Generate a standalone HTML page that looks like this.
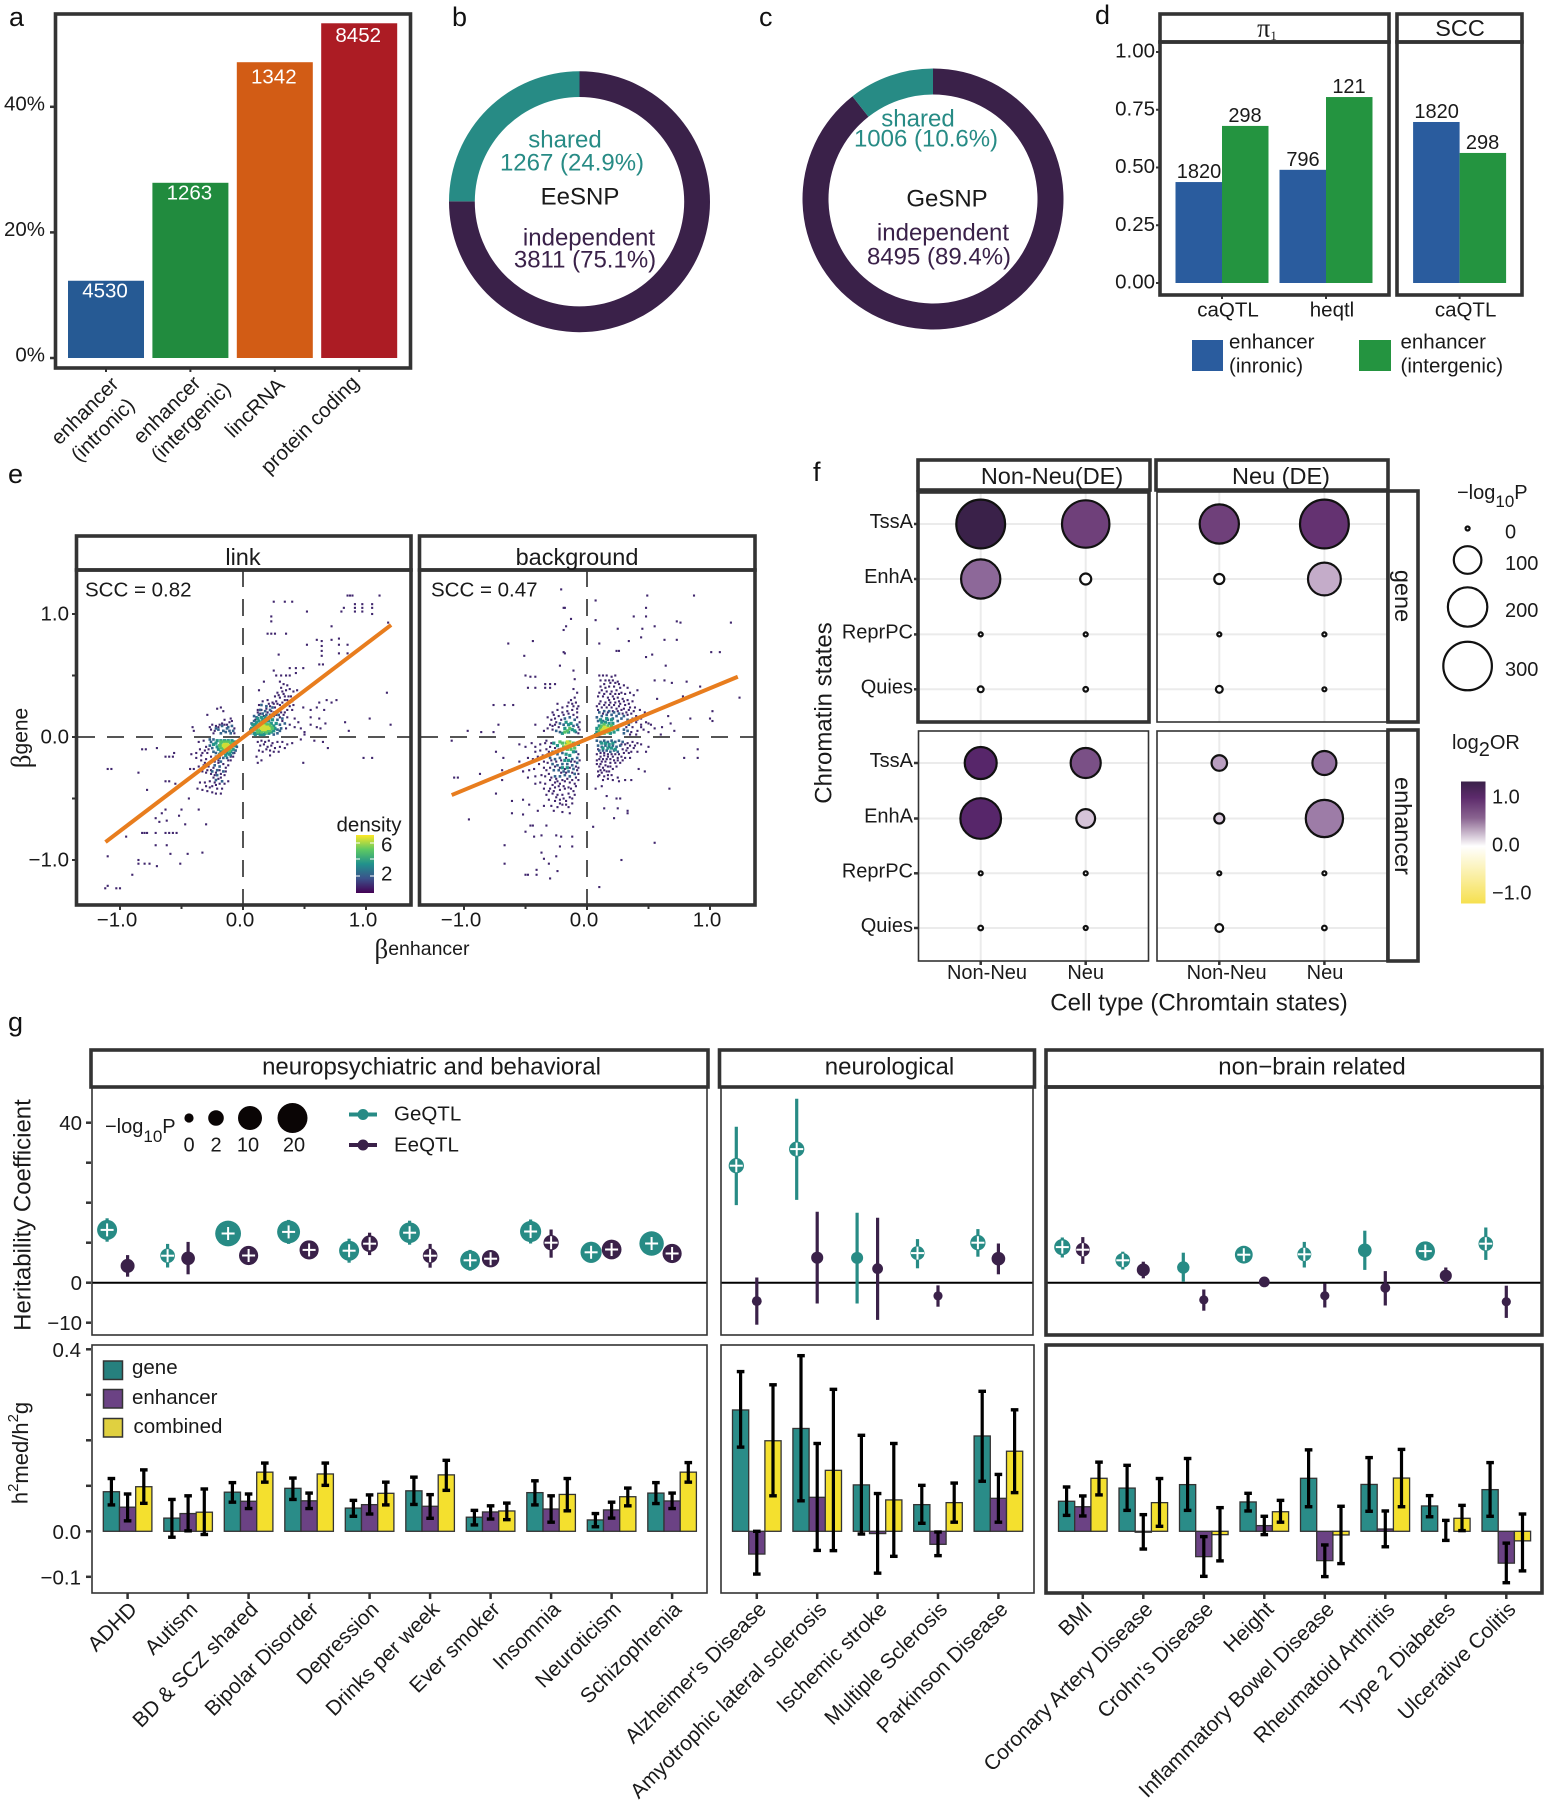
<!DOCTYPE html>
<html lang="en">
<head>
<meta charset="utf-8">
<title>Multi-panel enhancer and gene QTL figure</title>
<style>
html,body{margin:0;padding:0;background:#fff;}
svg{display:block;}
text{font-family:"Liberation Sans",sans-serif;dominant-baseline:central;fill:#1a1a1a;}
.f{fill:none;stroke:#333;}
.thick{stroke-width:3.6;}
.thin{stroke-width:1.6;}
.letter{font-size:27px;fill:#111;}
.strip{font-size:23.5px;text-anchor:middle;}
.strip24{font-size:24px;text-anchor:middle;}
.t20{font-size:20.5px;}
.mid{text-anchor:middle;}
.title{font-size:24px;text-anchor:middle;}
</style>
</head>
<body>
<svg id="figure" xmlns="http://www.w3.org/2000/svg" width="1549" height="1800" viewBox="0 0 1549 1800">
<rect width="1549" height="1800" fill="#fff"/>

<text class="letter" x="9" y="17">a</text>
<text class="letter" x="452" y="17">b</text>
<text class="letter" x="759" y="17">c</text>
<text class="letter" x="1095" y="15">d</text>
<text class="letter" x="8" y="474">e</text>
<text class="letter" x="813" y="472">f</text>
<text class="letter" x="8" y="1022">g</text>

<g id="panel-a"></g>
<rect class="f thick" x="55.5" y="14" width="355" height="354"/>

<g id="panel-b"></g>
<text class="mid" x="565" y="140" font-size="24" style="fill:#278b85">shared</text>
<text class="mid" x="572" y="163" font-size="24" style="fill:#278b85">1267 (24.9%)</text>
<text class="mid" x="580" y="197" font-size="24">EeSNP</text>
<text class="mid" x="589" y="238" font-size="24" style="fill:#3a2149">independent</text>
<text class="mid" x="585" y="260" font-size="24" style="fill:#3a2149">3811 (75.1%)</text>

<g id="panel-c"></g>
<text class="mid" x="918" y="119" font-size="24" style="fill:#278b85">shared</text>
<text class="mid" x="926" y="139" font-size="24" style="fill:#278b85">1006 (10.6%)</text>
<text class="mid" x="947" y="199" font-size="24">GeSNP</text>
<text class="mid" x="943" y="233" font-size="24" style="fill:#3a2149">independent</text>
<text class="mid" x="939" y="257" font-size="24" style="fill:#3a2149">8495 (89.4%)</text>

<g id="panel-d"></g>
<rect class="f thick" x="1160" y="14" width="229" height="28"/>
<rect class="f thick" x="1397" y="14" width="125" height="28"/>
<rect class="f thick" x="1160" y="42" width="229" height="253"/>
<rect class="f thick" x="1397" y="42" width="125" height="253"/>
<text class="mid" x="1267" y="28" font-size="26" style="font-family:'Liberation Serif',serif">π<tspan font-size="13" dy="7">1</tspan></text>
<text class="strip" x="1460" y="28">SCC</text>
<rect x="1192" y="340" width="31" height="31" fill="#2a5c9e"/>
<text class="t20" x="1229" y="342">enhancer</text>
<text class="t20" x="1229" y="366">(inronic)</text>
<rect x="1359" y="340" width="32" height="31" fill="#249440"/>
<text class="t20" x="1400.5" y="342">enhancer</text>
<text class="t20" x="1400.5" y="366">(intergenic)</text>

<g id="panel-e"></g>
<rect class="f thick" x="76.5" y="536" width="334.5" height="34"/>
<rect class="f thick" x="419.5" y="536" width="335.5" height="34"/>
<rect class="f thick" x="76.5" y="570" width="334.5" height="335"/>
<rect class="f thick" x="419.5" y="570" width="335.5" height="335"/>
<text class="strip" x="243" y="557">link</text>
<text class="strip" x="577" y="557">background</text>
<text class="t20" x="85" y="590">SCC = 0.82</text>
<text class="t20" x="431" y="590">SCC = 0.47</text>
<text class="mid" x="422" y="949" font-size="19.5"><tspan font-size="27" style="font-family:'Liberation Serif',serif">β</tspan>enhancer</text>
<text class="mid" x="21" y="738" font-size="21" transform="rotate(-90 21 738)"><tspan font-size="27" style="font-family:'Liberation Serif',serif">β</tspan>gene</text>
<text class="mid t20" x="369" y="825">density</text>
<defs>
<linearGradient id="viridis-gradient" x1="0" y1="1" x2="0" y2="0">
<stop offset="0" stop-color="#440154"/><stop offset=".25" stop-color="#3b528b"/><stop offset=".5" stop-color="#21918c"/><stop offset=".75" stop-color="#5ec962"/><stop offset="1" stop-color="#fde725"/>
</linearGradient>
<linearGradient id="or-gradient" x1="0" y1="0" x2="0" y2="1">
<stop offset="0" stop-color="#3a2149"/><stop offset=".13" stop-color="#5c2a6b"/><stop offset=".3" stop-color="#8a6490"/><stop offset=".53" stop-color="#ffffff"/><stop offset="1" stop-color="#f6e04f"/>
</linearGradient>
</defs>
<rect x="356" y="835" width="18" height="58" fill="url(#viridis-gradient)"/>
<line x1="356" x2="374" y1="843" y2="843" stroke="#fff" stroke-dasharray="4 10"/>
<line x1="356" x2="374" y1="859" y2="859" stroke="#fff" stroke-dasharray="4 10"/>
<line x1="356" x2="374" y1="876" y2="876" stroke="#fff" stroke-dasharray="4 10"/>
<text class="t20" x="381" y="845">6</text>
<text class="t20" x="381" y="874">2</text>

<g id="panel-f"></g>
<rect class="f thick" x="918" y="460" width="232" height="30"/>
<rect class="f thick" x="1156" y="460" width="232" height="30"/>
<rect class="f thick" x="918" y="492" width="231" height="230"/>
<rect class="f thin" x="1157" y="492" width="230" height="230"/>
<rect class="f thin" x="918.5" y="731" width="230" height="230"/>
<rect class="f thin" x="1157" y="731" width="230" height="230"/>
<rect class="f thick" x="1388" y="491" width="30" height="231"/>
<rect class="f thick" x="1388" y="730" width="30" height="231"/>
<text class="strip" x="1052" y="476">Non-Neu(DE)</text>
<text class="strip" x="1281" y="476">Neu (DE)</text>
<text class="strip" x="1403" y="596" transform="rotate(90 1403 596)">gene</text>
<text class="strip" x="1403" y="826" transform="rotate(90 1403 826)">enhancer</text>
<text class="title" x="1199" y="1003">Cell type (Chromtain states)</text>
<text class="title" x="824" y="713" transform="rotate(-90 824 713)">Chromatin states</text>
<text x="1457" y="493" font-size="20">−log<tspan font-size="17" dy="8">10</tspan><tspan dy="-8">P</tspan></text>
<text x="1452" y="743" font-size="20">log<tspan dy="7">2</tspan><tspan dy="-7">OR</tspan></text>
<rect x="1461" y="781.5" width="24.5" height="122" fill="url(#or-gradient)"/>

<g id="panel-g"></g>
<rect class="f thick" x="91" y="1050" width="617" height="37"/>
<rect class="f thick" x="719.5" y="1050" width="315" height="37"/>
<rect class="f thick" x="1046" y="1050" width="496" height="37"/>
<rect class="f thin" x="92" y="1087" width="615" height="248"/>
<rect class="f thin" x="721" y="1087" width="312" height="248"/>
<rect class="f thick" x="1046" y="1087" width="496" height="248"/>
<rect class="f thin" x="92" y="1345" width="615" height="248"/>
<rect class="f thin" x="721" y="1345" width="313" height="248"/>
<rect class="f thick" x="1046" y="1345" width="496" height="248"/>
<text class="strip24" x="431.5" y="1067">neuropsychiatric and behavioral</text>
<text class="strip24" x="889.5" y="1067">neurological</text>
<text class="strip24" x="1312" y="1067">non−brain related</text>
<text class="title" x="23" y="1215" transform="rotate(-90 23 1215)">Heritability Coefficient</text>
<text class="mid" x="20" y="1453" font-size="22" transform="rotate(-90 20 1453)">h<tspan font-size="15" dy="-7">2</tspan><tspan dy="7">med/h</tspan><tspan font-size="15" dy="-7">2</tspan><tspan dy="7">g</tspan></text>
<text x="105" y="1127" font-size="20">−log<tspan font-size="17" dy="9">10</tspan><tspan dy="-9">P</tspan></text>
<line x1="349" x2="377" y1="1114.5" y2="1114.5" stroke="#278b85" stroke-width="4"/>
<circle cx="363" cy="1114.5" r="5.5" fill="#278b85"/>
<text class="t20" x="394" y="1114">GeQTL</text>
<line x1="349" x2="377" y1="1145" y2="1145" stroke="#3a2149" stroke-width="4"/>
<circle cx="363" cy="1145" r="5.5" fill="#3a2149"/>
<text class="t20" x="394" y="1145">EeQTL</text>
<rect x="103.5" y="1361" width="19" height="18.5" fill="#26807e" stroke="#333" stroke-width="1.5"/>
<text class="t20" x="132" y="1367.5">gene</text>
<rect x="103.5" y="1389.5" width="19" height="18.5" fill="#6b4284" stroke="#333" stroke-width="1.5"/>
<text class="t20" x="132" y="1397.5">enhancer</text>
<rect x="103.5" y="1418.5" width="19" height="18.5" fill="#e0d040" stroke="#333" stroke-width="1.5"/>
<text class="t20" x="133.5" y="1426.5">combined</text>
</svg>

<script>
/* ---------- panel a data ---------- */
const aCategories = [["enhancer","(intronic)"],["enhancer","(intergenic)"],["lincRNA"],["protein coding"]];
const aPercent = [12.3, 27.9, 47.1, 53.3];
const aCounts = ["4530","1263","1342","8452"];
const aColors = ["#265a94","#218b3e","#d25c15","#ac1c24"];
const aTicks = [0, 20, 40];
/* ---------- panels b, c data ---------- */
const bValues = [1267, 3811];
const cValues = [1006, 8495];
/* ---------- panel d data ---------- */
const dTicks = [0, 0.25, 0.5, 0.75, 1];
const dGroups = ["caQTL","heqtl","caQTL"];
const dIntronic = [0.437, 0.49, 0.697];
const dIntergenic = [0.68, 0.805, 0.563];
const dIntronicLabels = ["1820","796","1820"];
const dIntergenicLabels = ["298","121","298"];
/* ---------- panel e data ---------- */
const eTicks = [-1, 0, 1];
const eMinorTicks = [-0.5, 0.5];
const eLevels = [0.8, 2.2, 3.6, 5, 6.5];
const linkLine = [[-1.118,-0.854],[1.204,0.911]];
const backgroundLine = [[-1.10,-0.472],[1.226,0.49]];
const link1 = [[.85,1.15],[.87,1.15],[.89,1.15],[1.11,1.15],[.25,1.10],[.34,1.10],[.40,1.10],[.52,1.02],[.80,1.02],[.82,1.05],[.91,1.08],[.91,1.05],[.91,1.02],[.97,1.08],[.97,1.05],[.97,1.02],[1.05,1.08],[1.05,1.05],[1.05,1.0],[.23,.98],[.23,.94],[.72,.90],[1.18,.93],[.20,.84],[.23,.84],[.26,.84],[.35,.84],[.60,.79],[.64,.78],[.64,.74],[.64,.70],[.64,.66],[.72,.79],[.78,.80],[.78,.75],[.85,.75],[.78,.68],[.85,.68],[.52,.75],[.29,.67],[.62,.59],[.65,.59],[.79,.59],[.38,.56],[.43,.56],[.49,.56],[.43,.52],[.25,.54],[.27,.50],[.31,.50],[.35,.50],[.38,.50],[.17,.45],[.13,.38],[.30,.45],[.33,.43],[.36,.42],[.31,.40],[.35,.38],[.38,.39],[.28,.36],[.33,.35],[.37,.33],[.41,.37],[.44,.38],[.30,.32],[.34,.30],[.27,.29],[.24,.28],[.20,.30],[.16,.29],[.13,.26],[.22,.25],[.26,.24],[.30,.26],[.33,.25],[.36,.22],[.19,.23],[.15,.22],[.12,.20],[.25,.20],[.29,.21],[.33,.18],[.36,.16],[.40,.22],[.42,.15],[.45,.12],[.38,.10],[.42,.08],[.47,.07],[.50,.04],[.35,.07],[.30,.10],[.32,.13],[.49,.24],[.55,.22],[.60,.24],[.66,.22],[.55,.16],[.62,.15],[.67,.11],[.55,.10],[.60,.08],[.63,.07],[.50,.02],[.12,-.04],[.15,-.03],[.18,-.04],[.21,-.03],[.24,-.05],[.28,-.04],[.32,-.04],[.36,-.06],[.40,-.05],[.14,-.07],[.17,-.06],[.20,-.08],[.23,-.07],[.26,-.09],[.30,-.08],[.34,-.09],[.13,-.11],[.16,-.12],[.19,-.10],[.22,-.11],[.25,-.12],[.29,-.12],[.11,-.16],[.12,-.21],[.15,-.19],[.22,-.15],[.49,-.21],[.47,-.02],[.58,-.03],[.65,-.04],[.69,-.09],[.98,-.17],[1.05,-.17],[1.2,.1],[1.17,.36],[1.03,.15],[.83,.12],[.86,.05],[.62,.28],[.72,.28],[.68,.30],[.76,.30],[-.21,.23],[-.18,.24],[-.16,.21],[-.29,.18],[-.25,.10],[-.22,.09],[-.19,.10],[-.15,.10],[-.26,.06],[-.24,.03],[-.15,.14],[-.11,.12],[-.09,.13],[-.10,.15],[-.41,.08],[-.40,.05],[-.36,-.04],[-.32,-.03],[-.30,-.08],[-.35,-.10],[-.38,-.13],[-.33,-.13],[-.29,-.13],[-.26,-.16],[-.30,-.18],[-.34,-.19],[-.38,-.17],[-.42,-.14],[-.27,-.21],[-.23,-.20],[-.20,-.21],[-.16,-.22],[-.12,-.19],[-.10,-.16],[-.24,-.25],[-.28,-.24],[-.32,-.23],[-.36,-.24],[-.40,-.26],[-.43,-.26],[-.14,-.28],[-.18,-.30],[-.22,-.29],[-.26,-.30],[-.30,-.29],[-.24,-.33],[-.20,-.34],[-.27,-.36],[-.23,-.37],[-.19,-.38],[-.15,-.38],[-.25,-.40],[-.21,-.42],[-.17,-.42],[-.31,-.37],[-.35,-.37],[-.37,-.42],[-.33,-.43],[-.29,-.44],[-.25,-.45],[-.22,-.46],[-.18,-.46],[-.12,-.36],[-.7,-.09],[-.82,-.1],[-.79,-.1],[-.63,-.16],[-.6,-.16],[-.57,-.16],[-.56,-.13],[-1.1,-.26],[-1.07,-.26],[-.85,-.29],[-.63,-.36],[-.6,-.36],[-.55,-.38],[-.78,-.43],[-.44,-.5],[-.63,-.59],[-.66,-.62],[-.71,-.66],[-.68,-.69],[-.62,-.68],[-.5,-.59],[-.52,-.64],[-.47,-.71],[-.36,-.59],[-.3,-.71],[-.82,-.78],[-.80,-.78],[-.78,-.78],[-.71,-.78],[-.63,-.78],[-.60,-.78],[-.57,-.78],[-.54,-.78],[-.95,-.81],[-.71,-.88],[-.62,-.88],[-.59,-.95],[-.45,-.95],[-.33,-.94],[-1.1,-.97],[-.85,-1],[-.85,-1.03],[-.8,-1.03],[-.76,-1.03],[-.7,-1.05],[-.51,-1.03],[-.9,-1.12],[-1.12,-1.23],[-1.1,-1.21],[-1.03,-1.23],[-1.0,-1.23]];
const linkExtra = [[.1,.14],[.12,.22],[.14,.19],[.17,.17],[.2,.2],[.23,.21],[.27,.18],[.3,.16],[.21,.27],[.25,.27],[.28,.27],[.32,.28],[.29,.34],[.26,.33],[.32,.37],[.34,.33],[.36,.3],[.39,.33],[.4,.29],[.41,.26],[.38,.25],[.34,.2],[.31,.2],[-.28,-.1],[-.31,-.11],[-.34,-.15],[-.31,-.21],[-.26,-.27],[-.29,-.27],[-.33,-.28],[-.19,-.27],[-.23,-.31],[-.18,-.33],[-.15,-.31],[-.22,-.39],[-.27,-.41],[-.3,-.4],[-.14,-.25],[-.12,-.23],[-.1,-.19],[-.08,-.16],[-.07,-.13],[-.2,-.19],[-.27,.08],[-.23,.05],[-.2,.08],[-.17,.11],[-.13,.1],[-.07,.07],[-.07,.03]];
const link2 = [[.06,.03],[.06,.06],[.07,.11],[.09,.13],[.11,.16],[.13,.18],[.16,.19],[.19,.18],[.22,.18],[.25,.17],[.28,.14],[.30,.10],[.28,.06],[.30,.05],[.28,.03],[.25,.02],[.09,.17],[.14,.22],[.18,.21],[.22,.22],[.26,.20],[.29,.18],[.32,.15],[.34,.11],[.31,.07],[.15,.26],[.19,.25],[.24,.24],[-.26,-.04],[-.27,-.07],[-.25,-.09],[-.24,-.12],[-.22,-.13],[-.22,-.16],[-.19,-.17],[-.16,-.17],[-.13,-.17],[-.10,-.15],[-.08,-.13],[-.06,-.11],[-.05,-.08],[-.05,-.04],[-.27,-.02],[-.24,-.02],[-.21,-.27],[-.19,-.24],[-.16,-.28],[-.23,-.23],[-.18,-.20],[-.25,-.28],[-.21,-.31],[-.17,-.36],[-.22,-.35],[-.2,.06],[-.16,.05],[-.13,.07],[-.11,.05],[-.17,.09],[-.12,.08],[-.09,.09],[-.14,.04],[-.22,.07],[-.18,.03],[-.10,.03],[-.08,.05]];
const link3 = [[.08,.05],[.09,.03],[.09,.08],[.10,.10],[.11,.03],[.11,.12],[.13,.03],[.13,.13],[.15,.02],[.16,.14],[.18,.03],[.19,.13],[.21,.03],[.21,.13],[.23,.04],[.23,.11],[.25,.05],[.25,.09],[.26,.07],[.12,.15],[.15,.16],[.18,.16],[.21,.15],[.24,.14],[.07,.07],[.08,.10],[.27,.11],[.10,.02],[.14,.02],[.17,.02],[-.22,-.05],[-.21,-.08],[-.20,-.10],[-.21,-.03],[-.18,-.12],[-.16,-.13],[-.13,-.13],[-.10,-.12],[-.08,-.10],[-.07,-.07],[-.07,-.04],[-.09,-.03],[-.12,-.03],[-.15,-.03],[-.18,-.03],[-.24,-.06],[-.19,-.14],[-.14,-.15],[-.11,-.14],[-.06,-.06]];
const link4 = [[.11,.06],[.12,.08],[.13,.05],[.13,.10],[.15,.04],[.16,.11],[.18,.11],[.19,.04],[.20,.05],[.21,.10],[.22,.05],[.23,.08],[.12,.04],[.14,.06],[.14,.10],[.17,.05],[.19,.10],[.22,.09],[.10,.07],[.24,.07],[.17,.12],[.15,.12],[-.18,-.06],[-.17,-.08],[-.18,-.09],[-.16,-.10],[-.14,-.11],[-.12,-.10],[-.10,-.09],[-.09,-.07],[-.10,-.05],[-.12,-.04],[-.14,-.04],[-.16,-.04],[-.19,-.07],[-.09,-.05],[-.11,-.11],[-.15,-.12],[-.18,-.04]];
const link5 = [[.15,.07],[.16,.08],[.17,.07],[.18,.08],[.17,.09],[.19,.07],[.16,.06],[.18,.06],[.2,.08],[.15,.09],[.14,.08],[.21,.07],[-.15,-.08],[-.14,-.07],[-.13,-.08],[-.14,-.09],[-.12,-.07],[-.16,-.07],[-.13,-.06],[-.15,-.06],[-.11,-.08]];
const background1 = [[-.21,1.2],[-.19,1.05],[-.18,1.05],[.07,1.11],[.49,1.15],[.87,1.15],[.48,1.05],[.48,.98],[.38,.98],[-.13,.96],[.07,.95],[-.17,.9],[-.19,.87],[.25,.88],[.45,.88],[.55,.9],[.73,.94],[.76,.93],[1.17,.93],[.44,.81],[-.64,.76],[-.44,.78],[.34,.78],[.63,.79],[.73,.79],[.1,.76],[-.19,.69],[-.18,.68],[-.51,.66],[.24,.7],[.26,.7],[1.01,.69],[1.08,.69],[.53,.67],[.48,.65],[-.22,.58],[.64,.58],[-.11,.54],[-.5,.5],[-.46,.49],[-.42,.49],[-.48,.4],[-.42,.4],[-.34,.43],[-.3,.43],[-.26,.43],[-.34,.4],[-.3,.4],[-.1,.47],[-.11,.39],[.63,.46],[.69,.44],[.81,.45],[.55,.46],[1.05,.42],[.92,.41],[-.76,.26],[-.67,.26],[-.6,.26],[-.72,.1],[-.86,.04],[-.76,.04],[-.97,.05],[-1.1,-.03],[-.74,-.12],[-.68,-.17],[-1.08,-.33],[-1.05,-.33],[-.87,-.3],[-.69,-.27],[-.63,-.27],[-.69,-.35],[-.52,-.28],[-.74,-.46],[-.61,-.52],[-.52,-.51],[-.47,-.55],[-.61,-.62],[-.52,-.63],[-.96,-.67],[-.46,-.72],[-.44,-.72],[-.33,-.72],[-.5,-.77],[-.43,-.81],[-.37,-.8],[-.25,-.8],[-.21,-.81],[-.12,-.81],[-.12,-.89],[-.22,-.89],[-.37,-.94],[-.35,-.99],[-.31,-1.03],[-.25,-.97],[-.67,-.88],[-.67,-1.03],[-.5,-1.12],[-.48,-1.12],[-.41,-1.12],[-.41,-1.08],[-.3,-1.15],[-.24,-1.09],[.1,-1.22],[.28,-1],[.55,-.86],[.05,-.73],[.22,-.66],[.14,-.58],[.25,-.58],[.33,-.6],[.27,-.5],[.24,-.5],[.33,-.62],[.07,-.42],[.16,-.48],[.67,-.42],[.9,-.17],[.79,-.17],[.9,-.1],[1.24,.32],[1.02,.21],[1,.15],[1.02,.13],[.84,.15],[.66,.17],[.68,.11],[.78,.33],[.57,.31],[.5,.11],[.61,.08],[.71,.05],[.44,.08],[.1,.5],[.13,.5],[.16,.5],[.2,.49],[.23,.5],[.21,.46],[.18,.46],[.25,.45],[.14,.43],[.18,.41],[.22,.41],[.26,.43],[.3,.42],[.33,.4],[.12,.38],[.16,.37],[.2,.37],[.24,.38],[.28,.36],[.31,.35],[.35,.36],[.38,.34],[.41,.38],[.09,.33],[.13,.33],[.17,.32],[.21,.33],[.25,.32],[.29,.31],[.33,.3],[.37,.29],[.11,.29],[.15,.28],[.19,.28],[.23,.28],[.27,.27],[.31,.26],[.35,.24],[.39,.24],[.43,.22],[.47,.2],[.08,.25],[.12,.24],[.16,.24],[.2,.24],[.24,.23],[.28,.22],[.32,.2],[.36,.19],[.4,.17],[.44,.15],[.48,.12],[.52,.1],[.4,.12],[.44,.1],[.37,.08],[.41,.05],[.46,.06],[.5,.04],[.55,.07],[.6,.02],[.36,.04],[.33,-.05],[.37,-.04],[.41,-.05],[.33,-.09],[.38,-.09],[.44,-.06],[.29,-.1],[.34,-.13],[.41,-.12],[.5,-.08],[.48,-.12],[.08,-.14],[.11,-.16],[.14,-.15],[.17,-.16],[.21,-.16],[.25,-.17],[.28,-.16],[.31,-.17],[.35,-.17],[.08,-.19],[.12,-.2],[.15,-.2],[.19,-.21],[.23,-.21],[.27,-.21],[.1,-.24],[.13,-.25],[.17,-.24],[.21,-.26],[.09,-.28],[.12,-.29],[.16,-.28],[.09,-.32],[.2,-.31],[.25,-.33],[.13,-.35],[.17,-.34],[.21,-.35],[.26,-.36],[.31,-.35],[.36,-.35],[.42,-.26],[.47,-.28],[.12,-.4],[-.13,.3],[-.1,.32],[-.08,.36],[-.12,.27],[-.16,.25],[-.09,.28],[-.07,.25],[-.24,.27],[-.2,.24],[-.28,.2],[-.24,.22],[-.2,.2],[-.16,.21],[-.12,.22],[-.08,.2],[-.32,.16],[-.29,.14],[-.26,.15],[-.3,.1],[-.26,.1],[-.35,.05],[-.32,.07],[-.28,.06],[-.42,.1],[-.08,.16],[-.06,.12],[-.06,.06],[-.55,-.06],[-.5,-.08],[-.45,-.05],[-.42,-.08],[-.38,-.06],[-.34,-.05],[-.42,-.12],[-.38,-.11],[-.33,-.1],[-.3,-.08],[-.55,-.2],[-.48,-.17],[-.44,-.18],[-.4,-.16],[-.36,-.15],[-.32,-.14],[-.52,-.28],[-.47,-.27],[-.43,-.26],[-.39,-.22],[-.35,-.25],[-.31,-.3],[-.37,-.31],[-.42,-.32],[-.48,-.33],[-.3,-.35],[-.26,-.37],[-.34,-.38],[-.38,-.37],[-.42,-.38],[-.22,-.38],[-.18,-.36],[-.14,-.37],[-.1,-.38],[-.07,-.35],[-.07,-.3],[-.07,-.25],[-.35,-.42],[-.3,-.42],[-.26,-.41],[-.22,-.43],[-.18,-.42],[-.13,-.42],[-.09,-.4],[-.33,-.47],[-.28,-.46],[-.24,-.47],[-.2,-.47],[-.15,-.46],[-.31,-.51],[-.26,-.52],[-.22,-.51],[-.17,-.52],[-.12,-.5],[-.29,-.56],[-.24,-.57],[-.2,-.55],[-.15,-.57],[-.27,-.6],[-.2,-.61],[-.14,-.62],[-.35,-.56],[-.4,-.6]];
const backgroundExtra = [[-.33,-.03],[-.29,-.05],[-.26,-.09],[-.31,-.12],[-.23,-.1],[-.35,-.2],[-.32,-.21],[-.29,-.19],[-.25,-.2],[-.21,-.19],[-.17,-.17],[-.13,-.2],[-.1,-.2],[-.07,-.14],[-.06,-.19],[-.33,-.27],[-.3,-.25],[-.26,-.24],[-.22,-.25],[-.18,-.26],[-.14,-.25],[-.09,-.24],[-.34,-.32],[-.29,-.33],[-.25,-.34],[-.21,-.29],[-.17,-.29],[-.12,-.29],[-.08,-.27],[-.28,-.39],[-.24,-.36],[-.2,-.35],[-.16,-.34],[-.12,-.35],[-.09,-.33],[-.31,-.44],[-.27,-.44],[-.23,-.4],[-.19,-.4],[-.15,-.41],[-.11,-.44],[-.25,-.49],[-.19,-.5],[-.14,-.49],[-.1,-.47],[-.22,-.54],[-.17,-.55],[-.12,-.54],[-.27,.18],[-.23,.17],[-.19,.18],[-.15,.19],[-.11,.18],[-.08,.23],[-.11,.25],[-.15,.28],[-.21,.14],[-.25,.12],[-.28,.09],[-.23,.08],[-.07,.08],[-.07,.03],[.11,.46],[.15,.46],[.19,.44],[.23,.44],[.27,.4],[.11,.41],[.15,.4],[.19,.35],[.23,.35],[.26,.35],[.1,.36],[.14,.35],[.18,.3],[.22,.31],[.26,.29],[.3,.29],[.34,.27],[.1,.27],[.14,.26],[.18,.26],[.22,.26],[.26,.25],[.3,.23],[.34,.22],[.38,.21],[.09,.22],[.13,.19],[.17,.2],[.21,.21],[.25,.21],[.29,.19],[.33,.18],[.37,.15],[.41,.14],[.36,.12],[.32,.08],[.35,.02],[.4,.02],[.09,-.1],[.11,-.13],[.14,-.13],[.17,-.14],[.2,-.14],[.23,-.14],[.26,-.14],[.3,-.13],[.1,-.18],[.13,-.18],[.16,-.18],[.19,-.18],[.22,-.19],[.25,-.19],[.29,-.19],[.08,-.22],[.11,-.22],[.15,-.23],[.19,-.24],[.24,-.24],[.11,-.27],[.14,-.27],[.18,-.28],[.1,-.31],[.14,-.32],[.17,-.31],[.31,-.06],[.35,-.07],[.39,-.07],[.28,-.06],[.32,-.11],[.36,-.12]];
const background2 = [[.1,.2],[.14,.21],[.18,.21],[.22,.2],[.26,.19],[.3,.17],[.08,.16],[.12,.17],[.16,.18],[.2,.18],[.24,.17],[.28,.15],[.33,.14],[.09,.13],[.13,.13],[.17,.14],[.21,.15],[.25,.13],[.3,.11],[.34,.1],[.3,.06],[.33,.05],[.3,.03],[.08,-.03],[.11,-.04],[.14,-.03],[.17,-.04],[.2,-.03],[.23,-.04],[.26,-.03],[.29,-.04],[.09,-.07],[.12,-.08],[.15,-.07],[.18,-.08],[.21,-.07],[.24,-.08],[.27,-.07],[.1,-.11],[.13,-.11],[.16,-.11],[.19,-.12],[.22,-.11],[.25,-.12],[-.22,.11],[-.18,.15],[-.14,.16],[-.1,.14],[-.19,.1],[-.08,.1],[-.25,.05],[-.22,.04],[-.09,.04],[-.11,.09],[-.28,-.12],[-.24,-.14],[-.2,-.13],[-.3,-.17],[-.26,-.18],[-.22,-.17],[-.12,-.18],[-.08,-.17],[-.09,-.12],[-.28,-.22],[-.24,-.23],[-.2,-.22],[-.16,-.22],[-.12,-.23],[-.08,-.21],[-.27,-.27],[-.23,-.27],[-.19,-.28],[-.15,-.28],[-.11,-.26],[-.26,-.32],[-.22,-.32],[-.18,-.31],[-.14,-.32],[-.1,-.3]];
const background3 = [[.12,-.05],[.15,-.05],[.18,-.06],[.21,-.05],[.13,-.09],[.17,-.09],[.2,-.09],[.23,-.1],[-.18,.07],[-.15,.04],[-.12,.06],[-.15,.1],[-.2,.03],[-.13,.11],[-.1,.05],[-.17,.12],[-.24,-.07],[-.21,-.1],[-.17,-.14],[-.14,-.15],[-.18,-.19],[-.15,-.19],[-.16,-.25],[-.2,-.25],[-.11,-.12],[-.07,-.06],[-.27,-.05],[.08,.04],[.08,.07],[.1,.09],[.11,.03],[.12,.12],[.15,.12],[.18,.11],[.21,.11],[.23,.08],[.22,.04],[.25,.06],[.19,.03],[.16,.15],[.11,.14],[.2,.14],[.07,.02]];
const background4 = [[-.16,.05],[-.14,.07],[-.18,.04],[-.2,-.05],[-.17,-.05],[-.14,-.04],[-.11,-.05],[-.22,-.04],[-.19,-.08],[-.16,-.1],[-.13,-.1],[-.1,-.09],[-.08,-.05],[.1,.05],[.11,.07],[.12,.09],[.14,.1],[.17,.09],[.18,.05],[.19,.07],[.17,.04],[.14,.03],[.2,.09],[.21,.06]];
const background5 = [[-.17,-.07],[-.15,-.06],[-.13,-.07],[-.14,-.05],[-.16,-.04],[.13,.06],[.15,.07],[.16,.06],[.14,.08],[.17,.07],[.12,.05],[.15,.05]];
/* ---------- panel f data (row = chromatin state, column = cell type) ---------- */
const fStates = ["TssA","EnhA","ReprPC","Quies"];
const fCellTypes = ["Non-Neu","Neu"];
const fPGeneNonNeu = [[303,286],[198,16],[0,0],[3,1]];
const fPGeneNeu = [[198,303],[13,140],[0,0],[5,0]];
const fPEnhancerNonNeu = [[133,118],[212,47],[0,0],[1,0]];
const fPEnhancerNeu = [[32,76],[13,179],[0,0],[7,1]];
const fOrGeneNonNeu = [[1.33,0.85],[0.6,0],[0,0],[0,0]];
const fOrGeneNeu = [[0.85,0.95],[0,0.3],[0,0],[0,0]];
const fOrEnhancerNonNeu = [[1.05,0.75],[1.05,0.22],[0,0],[0,0]];
const fOrEnhancerNeu = [[0.35,0.55],[0.2,0.5],[0,0],[0,0]];
const fSizeLegend = [0,100,200,300];
const fColorTicks = [1,0.5,0,-0.5,-1];
const fColorLabels = [1,0,-1];
/* ---------- panel g data ---------- */
const gNeuropsych = ["ADHD","Autism","BD & SCZ shared","Bipolar Disorder","Depression","Drinks per week","Ever smoker","Insomnia","Neuroticism","Schizophrenia"];
const gNeuro = ["Alzheimer's Disease","Amyotrophic lateral sclerosis","Ischemic stroke","Multiple Sclerosis","Parkinson Disease"];
const gNonBrain = ["BMI","Coronary Artery Disease","Crohn's Disease","Height","Inflammatory Bowel Disease","Rheumatoid Arthritis","Type 2 Diabetes","Ulcerative Colitis"];
const gCoefTicks = [40,30,20,10,0,-10];
const gCoefLabels = [40,0,-10];
const gRatioTicks = [0.4,0.3,0.2,0.1,0,-0.1];
const gRatioLabels = [0.4,0,-0.1];
const gSizeLegend = [0,2,10,20];
/* coefficient: value, lower, upper, -log10P, significant */
const geqtlNeuropsych = [[13.2,10.25,16.1,6.2,1],[6.75,3.8,9.7,1.7,1],[12.3,9.3,15.3,13,1],[12.7,9.7,15.7,9,1],[8,5,11,6.2,1],[12.5,9.5,15.5,6.8,1],[5.6,3,8.2,6,1],[12.8,9.8,15.8,7.3,1],[7.6,5,10.2,7.3,1],[9.8,6.8,12.8,10.7,1]];
const eeqtlNeuropsych = [[4.2,1.5,6.9,1.5,0],[6.1,2.1,10.2,1.4,0],[6.8,5,8.5,5.4,1],[8.2,6,10.4,5.4,1],[9.75,6.9,12.5,2.95,1],[6.75,3.75,9.7,1.7,1],[6,4,8,3.7,1],[10,6.25,13.3,1.9,1],[8.3,6,10.6,6,1],[7.3,5,9.6,5.4,1]];
const geqtlNeuro = [[29.25,19.4,39,1.9,1],[33.4,20.7,46,1.9,1],[6.2,-5.2,17.5,0.9,0],[7.4,3.6,10.9,1.5,1],[10,6.5,13.4,1.9,1]];
const eeqtlNeuro = [[-4.6,-10.5,1.3,0.2,0],[6.25,-5.2,17.75,0.9,0],[3.5,-9.3,16.25,0.5,0],[-3.3,-6,-0.67,0,0],[6,2.1,9.8,1.4,0]];
const geqtlNonBrain = [[8.9,6.3,11.3,2.6,1],[5.6,3.3,7.75,1.7,1],[3.8,0.25,7.5,1,0],[7,5,9,4.1,1],[7.1,3.8,10.2,1.5,1],[8.1,3.2,13,1.4,0],[7.9,6,10,5.6,1],[9.75,5.7,13.8,1.7,1]];
const eeqtlNonBrain = [[8.25,4.7,11.4,1.5,1],[3.2,1.1,5.25,1.2,0],[-4.3,-7,-1.7,0,0],[0.2,-1,1.4,0.5,0],[-3.25,-6.2,-0.2,0,0],[-1.3,-5.7,2.9,0.2,0],[1.75,-0.3,3.8,0.9,0],[-4.75,-8.8,-0.75,0,0]];
/* ratio: value, lower, upper for gene / enhancer / combined */
const ratioGeneNeuropsych = [[.087,.058,.116],[.029,-.013,.07],[.086,.064,.107],[.0945,.07,.117],[.051,.033,.068],[.089,.059,.119],[.031,.014,.046],[.085,.058,.111],[.025,.01,.039],[.084,.061,.107]];
const ratioEnhancerNeuropsych = [[.053,.023,.082],[.039,.001,.078],[.066,.05,.082],[.067,.05,.084],[.0586,.038,.08],[.055,.0286,.0806],[.0425,.027,.056],[.049,.02,.078],[.047,.029,.064],[.0667,.05,.084]];
const ratioCombinedNeuropsych = [[.098,.0615,.135],[.042,-.007,.093],[.13,.108,.15],[.126,.101,.15],[.0835,.058,.108],[.124,.09,.156],[.0447,.0256,.062],[.081,.045,.116],[.076,.056,.095],[.13,.108,.151]];
const ratioGeneNeuro = [[.2667,.185,.351],[.226,.067,.386],[.102,-.006,.211],[.0586,.0176,.101],[.2095,.11,.3077]];
const ratioEnhancerNeuro = [[-.05,-.094,0],[.0747,-.042,.193],[-.005,-.092,.083],[-.0286,-.0535,-.0015],[.0725,.02,.125]];
const ratioCombinedNeuro = [[.199,.078,.322],[.134,-.0425,.312],[.069,-.055,.193],[.063,.02,.106],[.176,.085,.267]];
const ratioGeneNonBrain = [[.066,.035,.0974],[.095,.046,.145],[.1026,.046,.16],[.0645,.0447,.0835],[.1165,.054,.179],[.103,.044,.162],[.0557,.032,.0784],[.0916,.033,.151]];
const ratioEnhancerNonBrain = [[.054,.0337,.0777],[-.002,-.039,.0366],[-.0557,-.099,-.0117],[.0125,-.0073,.033],[-.0645,-.0996,-.03],[.005,-.034,.0447],[0,-.02,.024],[-.07,-.113,-.026]];
const ratioCombinedNonBrain = [[.1165,.08,.152],[.063,.011,.116],[-.0073,-.065,.052],[.043,.02,.068],[-.008,-.071,.055],[.117,.054,.18],[.0286,.0015,.057],[-.021,-.087,.038]];

/* ---------- helpers ---------- */
const NS = "http://www.w3.org/2000/svg";
function mk(tag, parent, attrs, txt){
  const e = document.createElementNS(NS, tag);
  for (const k in attrs) e.setAttribute(k, attrs[k]);
  if (txt !== undefined) e.textContent = txt;
  parent.appendChild(e);
  return e;
}
function minusFmt(v, d){ const s = Math.abs(v).toFixed(d); return (v < 0 ? "−" : "") + s; }
function hex(c){ return [1,3,5].map(i => parseInt(c.substr(i,2),16)); }
function mix(stops, t){
  t = Math.max(stops[0][0], Math.min(stops[stops.length-1][0], t));
  for (let i = 0; i < stops.length-1; i++){
    if (t <= stops[i+1][0]){
      const u = (t-stops[i][0])/(stops[i+1][0]-stops[i][0]);
      const a = hex(stops[i][1]), b = hex(stops[i+1][1]);
      return "rgb("+a.map((v,j)=>Math.round(v+(b[j]-v)*u)).join(",")+")";
    }
  }
  return stops[stops.length-1][1];
}

/* ---------- panel a ---------- */
(function(){
  const g = document.getElementById("panel-a");
  const ya = v => 358 - v*6.28;
  const xa = i => 106 + i*84.4;
  const barW = 76;
  const labelDrop = [10,10,15,12];
  aPercent.forEach((v,i)=>{
    const r = mk("rect", g, {x:xa(i)-barW/2, y:ya(v), width:barW, height:ya(0)-ya(v), fill:aColors[i]});
    
    
    const t = mk("text", g, {x:xa(i)-1, y:ya(v)+labelDrop[i], "text-anchor":"middle", "font-size":"20.5", style:"fill:#fff"}, aCounts[i]);
    
    
    const tk = mk("line", g, {x1:xa(i), x2:xa(i), y1:368, y2:372, stroke:"#333", "stroke-width":2});
    
    
  });
  aTicks.forEach(v=>{
    const tk = mk("line", g, {x1:50, x2:55, y1:ya(v), y2:ya(v), stroke:"#333", "stroke-width":2.5});
    
    
    const t = mk("text", g, {x:45, y:ya(v)-3, "text-anchor":"end", "font-size":"20.5"}, v+"%");
    
    
  });
  const labelCenters = [[[85,411],[103,430]],[[167,410],[191,422]],[[255,408]],[[310,425]]];
  aCategories.forEach((lines,i)=>{
    lines.forEach((s,j)=>{
      const c = labelCenters[i][j];
      const t = mk("text", g, {x:c[0], y:c[1], "text-anchor":"middle", "font-size":"20.5", transform:"rotate(-45 "+c[0]+" "+c[1]+")"}, s);
      
      
    });
  });
})();

/* ---------- donuts ---------- */
function donut(groupId, cx, cy, R, r, values){
  const g = document.getElementById(groupId);
  const total = values[0]+values[1];
  const frac = values[0]/total;
  const pt = (rad, a) => [cx+rad*Math.sin(a), cy-rad*Math.cos(a)];
  const a0 = -frac*2*Math.PI;
  const arc = (start, end, large) => {
    const p1 = pt(R,start), p2 = pt(R,end), p3 = pt(r,end), p4 = pt(r,start);
    return "M"+p1+" A"+R+" "+R+" 0 "+large+" 1 "+p2+" L"+p3+" A"+r+" "+r+" 0 "+large+" 0 "+p4+" Z";
  };
  const big = mk("path", g, {d:arc(0, 2*Math.PI+a0, frac<0.5?1:0), fill:"#3a2149"});
  
  
  const small = mk("path", g, {d:arc(a0, 0, frac>0.5?1:0), fill:"#278b85"});
  
  
}
donut("panel-b", 579.5, 201.7, 130.5, 104.7, bValues);
donut("panel-c", 933, 199, 130.5, 104.5, cValues);

/* ---------- panel d ---------- */
(function(){
  const g = document.getElementById("panel-d");
  const yd = v => 283 - v*231;
  const centers = [1222, 1326, 1459.6];
  const w = 46.5;
  dIntronic.forEach((v,i)=>{
    const c = centers[i];
    const b1 = mk("rect", g, {x:c-w, y:yd(v), width:w, height:yd(0)-yd(v), fill:"#2a5c9e"});
    
    
    const b2 = mk("rect", g, {x:c, y:yd(dIntergenic[i]), width:w, height:yd(0)-yd(dIntergenic[i]), fill:"#249440"});
    
    
    const t1 = mk("text", g, {x:c-23, y:yd(v)-10, "text-anchor":"middle", "font-size":"20"}, dIntronicLabels[i]);
    
    
    const t2 = mk("text", g, {x:c+23, y:yd(dIntergenic[i])-10, "text-anchor":"middle", "font-size":"20"}, dIntergenicLabels[i]);
    
    
    const tk = mk("line", g, {x1:c, x2:c, y1:295, y2:299, stroke:"#333", "stroke-width":2});
    
    
    const lb = mk("text", g, {x:c+6, y:310, "text-anchor":"middle", "font-size":"20.5"}, dGroups[i]);
    
    
  });
  dTicks.forEach(v=>{
    const tk = mk("line", g, {x1:1156, x2:1160, y1:yd(v), y2:yd(v), stroke:"#333", "stroke-width":2});
    
    
    const t = mk("text", g, {x:1155, y:yd(v)-1, "text-anchor":"end", "font-size":"20.5"}, v.toFixed(2));
    
    
  });
})();

/* ---------- panel e ---------- */
(function(){
  const g = document.getElementById("panel-e");
  const viridis = [[0,"#440154"],[.25,"#3b528b"],[.5,"#21918c"],[.75,"#5ec962"],[1,"#fde725"]];
  const ye = v => 737 - v*123;
  const markSizes = [2.1,2.6,3.2,3.2,3.2];
  function facet(x0, name, line, groups, frameL, frameR){
    const xe = v => x0 + v*123;
    [ [frameL,frameR,ye(0),ye(0)], [xe(0),xe(0),570,905] ].forEach(c=>{
      const d = mk("line", g, {x1:c[0], x2:c[1], y1:c[2], y2:c[3], stroke:"#555", "stroke-width":2, "stroke-dasharray":"17 12"});
      
      
    });
    groups.forEach((pts,k)=>{
      const col = mix(viridis, eLevels[k]/7);
      pts.forEach(p=>{
        const s = markSizes[k];
        const r = mk("rect", g, {x:xe(p[0])-s/2, y:ye(p[1])-s/2, width:s, height:s, fill:col});
        
        
      });
    });
    const fit = mk("line", g, {x1:xe(line[0][0]), y1:ye(line[0][1]), x2:xe(line[1][0]), y2:ye(line[1][1]), stroke:"#e87d1e", "stroke-width":4});
    
    
    eTicks.forEach(v=>{
      const tk = mk("line", g, {x1:xe(v), x2:xe(v), y1:905, y2:910, stroke:"#333", "stroke-width":2});
      
      
      const t = mk("text", g, {x:xe(v)-3, y:920, "text-anchor":"middle", "font-size":"20.5"}, minusFmt(v,1));
      
      
    });
    eMinorTicks.forEach(v=>{
      const tk = mk("line", g, {x1:xe(v), x2:xe(v), y1:905, y2:909, stroke:"#333", "stroke-width":2});
      
      
    });
  }
  facet(243, "link", linkLine, [link1.concat(linkExtra),link2,link3,link4,link5], 78, 410);
  facet(587, "background", backgroundLine, [background1.concat(backgroundExtra),background2,background3,background4,background5], 421, 754);
  eTicks.forEach(v=>{
    const tk = mk("line", g, {x1:72, x2:76, y1:ye(v), y2:ye(v), stroke:"#333", "stroke-width":2});
    
    
    const t = mk("text", g, {x:69, y:ye(v), "text-anchor":"end", "font-size":"20.5"}, minusFmt(v,1));
    
    
  });
  eMinorTicks.forEach(v=>{
    const tk = mk("line", g, {x1:72, x2:76, y1:ye(v), y2:ye(v), stroke:"#333", "stroke-width":2});
    
    
  });
})();

/* ---------- panel f ---------- */
(function(){
  const g = document.getElementById("panel-f");
  const orStops = [[-1.15,"#f6e04f"],[0,"#ffffff"],[0.2,"#d9c9dc"],[0.35,"#b99ec0"],[0.55,"#93709f"],[0.75,"#7a5086"],[0.9,"#6a3874"],[1.05,"#57266a"],[1.33,"#3a2149"]];
  const rScale = p => Math.max(2, Math.sqrt(9+2.1*p)-1);
  const rowsTop = [524,579,634.4,689.3], rowsBottom = [763,818.5,873.3,928];
  function facet(name, xs, ys, left, right, top, bottom, pv, orv){
    ys.forEach(y=>{
      const l = mk("line", g, {x1:left, x2:right, y1:y, y2:y, stroke:"#ebebeb", "stroke-width":2});
      
      
    });
    xs.forEach(x=>{
      const l = mk("line", g, {x1:x, x2:x, y1:top, y2:bottom, stroke:"#ebebeb", "stroke-width":2});
      
      
    });
    ys.forEach((y,i)=>{
      xs.forEach((x,j)=>{
        const c = mk("circle", g, {cx:x, cy:y, r:rScale(pv[i][j]), fill:mix(orStops, orv[i][j]), stroke:"#111", "stroke-width":2.2});
        
        
      });
    });
  }
  facet("gene-nonneu", [980.7,1085.7], rowsTop, 918, 1149, 492, 722, fPGeneNonNeu, fOrGeneNonNeu);
  facet("gene-neu", [1219.3,1324.4], rowsTop, 1157, 1387, 492, 722, fPGeneNeu, fOrGeneNeu);
  facet("enhancer-nonneu", [980.7,1085.7], rowsBottom, 918, 1149, 731, 961, fPEnhancerNonNeu, fOrEnhancerNonNeu);
  facet("enhancer-neu", [1219.3,1324.4], rowsBottom, 1157, 1387, 731, 961, fPEnhancerNeu, fOrEnhancerNeu);
  rowsTop.concat(rowsBottom).forEach((y,i)=>{
    const tk = mk("line", g, {x1:914, x2:918, y1:y, y2:y, stroke:"#333", "stroke-width":2.5});
    
    
    const t = mk("text", g, {x:913, y:y-2, "text-anchor":"end", "font-size":"20"}, fStates[i%4]);
    
    
  });
  [[980.7,987],[1085.7,1085.7],[1219.3,1226.6],[1324.4,1325]].forEach((p,i)=>{
    const tk = mk("line", g, {x1:p[0], x2:p[0], y1:961, y2:965, stroke:"#333", "stroke-width":2.5});
    
    
    const t = mk("text", g, {x:p[1], y:973, "text-anchor":"middle", "font-size":"20"}, fCellTypes[i%2]);
    
    
  });
  const legendY = [528.5,560,607,666];
  fSizeLegend.forEach((p,i)=>{
    const c = mk("circle", g, {cx:1467.6, cy:legendY[i], r:rScale(p), fill:"#fff", stroke:"#111", "stroke-width":2.2});
    
    
    const t = mk("text", g, {x:1505, y:legendY[i]+4, "font-size":"20"}, String(p));
    
    
  });
  const yc = v => 845.5 - v*48;
  fColorTicks.forEach(v=>{
    const tk = mk("line", g, {x1:1461, x2:1485.5, y1:yc(v), y2:yc(v), stroke:"#fff", "stroke-width":1.2, "stroke-dasharray":"5 14.5"});
    
    
  });
  fColorLabels.forEach(v=>{
    const t = mk("text", g, {x:1492, y:yc(v), "font-size":"20"}, minusFmt(v,1));
    
    
  });
})();

/* ---------- panel g ---------- */
(function(){
  const g = document.getElementById("panel-g");
  const yc = v => 1282.7 - v*4;
  const yr = v => 1531.3 - v*455;
  const rP = p => p<=2 ? 4.6+1.6*p : (p<=10 ? 7.8+0.525*(p-2) : 12+0.3*(p-10));
  const teal = "#278b85", dark = "#3a2149";
  function ratioGroup(x, rows, offset, fill, name){
    rows.forEach((d,i)=>{
      const c = x(i)+offset;
      const top = Math.min(yr(d[0]),yr(0)), h = Math.abs(yr(d[0])-yr(0));
      const b = mk("rect", g, {x:c-8.1, y:top, width:16.2, height:h, fill:fill, stroke:"#333", "stroke-width":1.3});
      
      
    });
  }
  function ratioErr(x, rows, offset, name){
    rows.forEach((d,i)=>{
      const c = x(i)+offset;
      const e = mk("line", g, {x1:c, x2:c, y1:yr(d[1]), y2:yr(d[2]), stroke:"#000", "stroke-width":3.2});
      
      
      [d[1],d[2]].forEach(v=>{
        const cap = mk("line", g, {x1:c-3.8, x2:c+3.8, y1:yr(v), y2:yr(v), stroke:"#000", "stroke-width":3.4});
        
        
      });
    });
  }
  function coef(x, rows, offset, col, name){
    rows.forEach((d,i)=>{
      const c = x(i)+offset;
      const e = mk("line", g, {x1:c, x2:c, y1:yc(d[1]), y2:yc(d[2]), stroke:col, "stroke-width":3.2});
      
      
      const p = mk("circle", g, {cx:c, cy:yc(d[0]), r:rP(d[3]), fill:col});
      
      
      if (d[4]){
        const h = mk("line", g, {x1:c-6.5, x2:c+6.5, y1:yc(d[0]), y2:yc(d[0]), stroke:"#fff", "stroke-width":2});
        
        
        const v = mk("line", g, {x1:c, x2:c, y1:yc(d[0])-6.5, y2:yc(d[0])+6.5, stroke:"#fff", "stroke-width":2});
        
        
      }
    });
  }
  function facet(x, left, right, cats, ge, ee, rg, re, rc, name){
    const z = mk("line", g, {x1:left, x2:right, y1:yc(0), y2:yc(0), stroke:"#000", "stroke-width":2});
    
    
    coef(x, ge, -20.5, teal, name+'-geqtl');
    coef(x, ee, 0, dark, name+'-eeqtl');
    ratioGroup(x, rg, -16.2, "#2a8c88", name+'-gene');
    ratioGroup(x, re, 0, "#6b4284", name+'-enhancer');
    ratioGroup(x, rc, 16.2, "#f4e02e", name+'-combined');
    ratioErr(x, rg, -16.2, name+'-gene');
    ratioErr(x, re, 0, name+'-enhancer');
    ratioErr(x, rc, 16.2, name+'-combined');
    cats.forEach((s,i)=>{
      const tk = mk("line", g, {x1:x(i), x2:x(i), y1:1593, y2:1599, stroke:"#333", "stroke-width":2.5});
      
      
      const px = x(i)+6, py = 1606;
      const t = mk("text", g, {x:px, y:py, "text-anchor":"end", "font-size":"21", transform:"rotate(-45 "+px+" "+py+")"}, s);
      
      
    });
  }
  facet(i=>127.6+i*60.5, 92, 707, gNeuropsych, geqtlNeuropsych, eeqtlNeuropsych, ratioGeneNeuropsych, ratioEnhancerNeuropsych, ratioCombinedNeuropsych, "neuropsych");
  facet(i=>756.8+i*60.4, 721, 1033, gNeuro, geqtlNeuro, eeqtlNeuro, ratioGeneNeuro, ratioEnhancerNeuro, ratioCombinedNeuro, "neurological");
  facet(i=>1082.8+i*60.5, 1046, 1542, gNonBrain, geqtlNonBrain, eeqtlNonBrain, ratioGeneNonBrain, ratioEnhancerNonBrain, ratioCombinedNonBrain, "non-brain");
  gCoefTicks.forEach(v=>{
    const tk = mk("line", g, {x1:86, x2:91, y1:yc(v), y2:yc(v), stroke:"#333", "stroke-width":2.5});
    
    
  });
  gCoefLabels.forEach(v=>{
    const t = mk("text", g, {x:82, y:yc(v)+1, "text-anchor":"end", "font-size":"20.5"}, minusFmt(v,0));
    
    
  });
  gRatioTicks.forEach(v=>{
    const tk = mk("line", g, {x1:86, x2:91, y1:yr(v), y2:yr(v), stroke:"#333", "stroke-width":2.5});
    
    
  });
  gRatioLabels.forEach(v=>{
    const t = mk("text", g, {x:81, y:yr(v)+1, "text-anchor":"end", "font-size":"20.5"}, minusFmt(v,1));
    
    
  });
  const legendX = [189,216,250,292.5], legendLabelX = [189,216,248,294];
  gSizeLegend.forEach((p,i)=>{
    const c = mk("circle", g, {cx:legendX[i], cy:1118, r:rP(p), fill:"#0a0505"});
    
    
    const t = mk("text", g, {x:legendLabelX[i], y:1145.5, "text-anchor":"middle", "font-size":"20"}, String(p));
    
    
  });
})();
</script>
</body>
</html>
